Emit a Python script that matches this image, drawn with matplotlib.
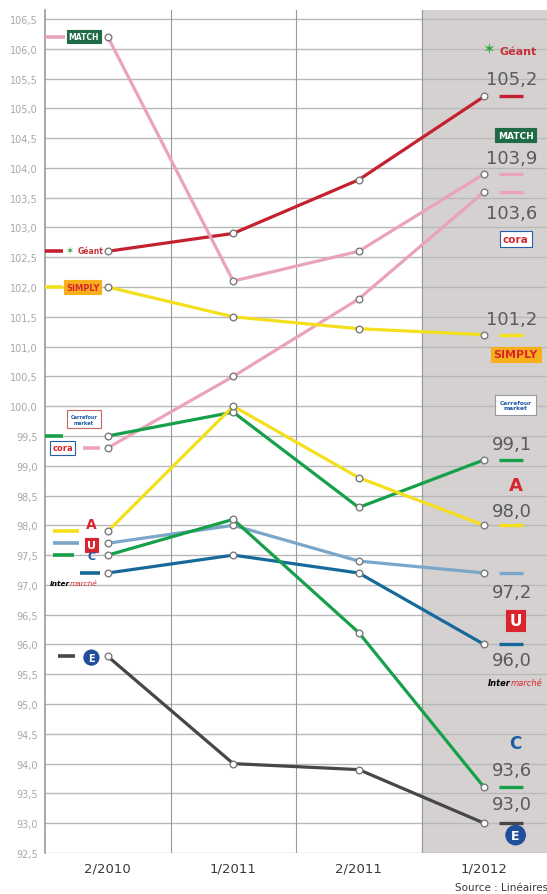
import matplotlib
matplotlib.use("Agg")
import matplotlib.pyplot as plt

periods = ["2/2010", "1/2011", "2/2011", "1/2012"]

geant = [102.6, 102.9, 103.8, 105.2]
match = [106.2, 102.1, 102.6, 103.9]
cora = [99.3, 100.5, 101.8, 103.6]
simply = [102.0, 101.5, 101.3, 101.2]
carrefour_market = [99.5, 99.9, 98.3, 99.1]
auchan = [97.9, 100.0, 98.8, 98.0]
super_u = [97.7, 98.0, 97.4, 97.2]
intermarche = [97.2, 97.5, 97.2, 96.0]
carrefour = [97.5, 98.1, 96.2, 93.6]
leclerc = [95.8, 94.0, 93.9, 93.0]

yticks = [92.5 + 0.5 * i for i in range(29)]

PINK = "#eaa3bd"
RED = "#c4202e"
YELLOW = "#f3df1c"
GREEN = "#17a04a"
LBLUE = "#7aa6c9"
DBLUE = "#17699c"
DGREY = "#474747"

# name, values, colour, left stub x-range, right label dy
series = [
    ("Géant", geant, RED, (-0.54, -0.36), 0.30),
    ("Match", match, PINK, (-0.54, -0.34), 0.26),
    ("Cora", cora, PINK, (-0.20, -0.06), -0.36),
    ("Simply", simply, YELLOW, (-0.54, -0.36), 0.26),
    ("Carrefour Market", carrefour_market, GREEN, (-0.50, -0.36), 0.26),
    ("Auchan", auchan, YELLOW, (-0.44, -0.23), 0.24),
    ("Super U", super_u, LBLUE, (-0.44, -0.23), -0.32),
    ("Intermarché", intermarche, DBLUE, (-0.22, -0.06), -0.26),
    ("Carrefour", carrefour, GREEN, (-0.44, -0.27), 0.30),
    ("Leclerc", leclerc, DGREY, (-0.40, -0.26), 0.32),
]

fig = plt.figure(figsize=(5.47, 8.95), dpi=100)
ax = fig.add_axes([45 / 547, 1 - 854 / 895, 1 - 45 / 547, (854 - 11) / 895])
ax.set_xlim(-0.5, 3.5)
ax.set_ylim(92.5, 106.65)

ax.axvspan(2.5, 3.5, color="#d5d1d1", zorder=0)
for y in yticks:
    ax.axhline(y, color="#b8b8b8", lw=1.0, zorder=1)
for x in [0.5, 1.5, 2.5]:
    ax.axvline(x, color="#9a9a9a", lw=0.8, zorder=1)

xs = range(len(periods))
for name, vals, col, stub, dy in series:
    ax.plot(xs, vals, color=col, lw=2.3, zorder=3, solid_capstyle="round")
    ax.plot(xs, vals, "o", ms=4.8, mfc="white", mec="#7a7a7a", mew=1.0, zorder=4)
    ax.plot(stub, [vals[0]] * 2, color=col, lw=2.6, zorder=3, solid_capstyle="butt")
    ax.plot([3.12, 3.31], [vals[-1]] * 2, color=col, lw=2.4, zorder=3, solid_capstyle="butt")
    txt = f"{vals[-1]:.1f}".replace(".", ",")
    ax.text(3.22, vals[-1] + dy, txt, ha="center", va="center", fontsize=13,
            color="#5a5a5a", family="Liberation Sans Narrow", zorder=5)

# logo stand-ins
def logo(x, y, s, fc, tc, ec=None, fs=5.5, weight="bold", pad=0.25, box=True):
    kw = dict(ha="center", va="center", fontsize=fs, color=tc, weight=weight, zorder=6)
    if box:
        kw["bbox"] = dict(boxstyle=f"square,pad={pad}", fc=fc, ec=ec or fc, lw=0.8)
    ax.text(x, y, s, **kw)

def inter_logo(x, y, fs):
    t = ax.text(x, y, "Inter", fontsize=fs, weight="bold", style="italic", color="black",
                ha="left", va="center", zorder=6)
    ax.annotate("marché", xy=(1, 0.5), xycoords=t, fontsize=fs, style="italic",
                color="#d8262e", ha="left", va="center", zorder=6)

# left side
logo(-0.19, 106.2, "MATCH", "#1e6b45", "white")
logo(-0.14, 102.62, "Géant", "white", "#c8303a", fs=5.5, box=False)
ax.text(-0.31, 102.62, "✶", color="#2da83c", fontsize=7, ha="center", va="center", zorder=6)
logo(-0.2, 102.0, "SIMPLY", "#f7b01c", "#d8262e", fs=6)
logo(-0.19, 99.78, "Carrefour\nmarket", "white", "#1f5aa6", ec="#c76464", fs=3.6, pad=0.7)
logo(-0.36, 99.3, "cora", "white", "#d8262e", ec="#2460a7", fs=6, pad=0.3)
logo(-0.13, 98.03, "A", "white", "#d8262e", fs=10, box=False)
logo(-0.13, 97.67, "U", "#d8262e", "white", fs=8, pad=0.2)
logo(-0.13, 97.48, "C", "white", "#1f5aa6", fs=8, box=False)
inter_logo(-0.46, 97.04, 5.3)
ax.text(-0.13, 95.78, "E", fontsize=7, weight="bold", color="white", ha="center", va="center",
        zorder=6, bbox=dict(boxstyle="circle,pad=0.25", fc="#1f4e9a", ec="#1f4e9a"))

# right side
logo(3.27, 105.96, "Géant", "white", "#c8303a", fs=8, box=False)
ax.text(3.04, 106.0, "✶", color="#2da83c", fontsize=11, ha="center", va="center", zorder=6)
logo(3.25, 104.55, "MATCH", "#1e6b45", "white", fs=6.5)
logo(3.25, 102.8, "cora", "white", "#d8262e", ec="#2460a7", fs=7.5, pad=0.3)
logo(3.25, 100.87, "SIMPLY", "#f7b01c", "#d8262e", fs=8)
logo(3.25, 100.02, "Carrefour\nmarket", "white", "#1f5aa6", ec="#999999", fs=4.2, pad=0.8)
logo(3.25, 98.67, "A", "white", "#d8262e", fs=13, box=False)
logo(3.25, 96.4, "U", "#d8262e", "white", fs=11, pad=0.2)
inter_logo(3.03, 95.36, 6.0)
logo(3.25, 94.35, "C", "#d5d1d1", "#1f5aa6", fs=12, box=False)
ax.text(3.25, 92.8, "E", fontsize=9, weight="bold", color="white", ha="center", va="center",
        zorder=6, bbox=dict(boxstyle="circle,pad=0.25", fc="#1f4e9a", ec="#1f4e9a"))

ax.set_yticks(yticks)
ax.set_yticklabels([f"{v:.1f}".replace(".", ",") for v in yticks],
                   fontsize=7, color="#a8a8a8", family="Liberation Sans Narrow")
ax.set_xticks(list(xs))
ax.set_xticklabels(periods, fontsize=9.5, color="#3a3a3a", family="Liberation Sans Narrow")
ax.tick_params(length=0, pad=5)
ax.tick_params(axis="x", pad=6)
for s in ["top", "right", "bottom"]:
    ax.spines[s].set_visible(False)
ax.spines["left"].set_color("#9a9a9a")
ax.spines["left"].set_linewidth(1.2)

fig.text(455 / 547, 1 - 888 / 895, "Source : Linéaires", fontsize=7.5, color="#3a3a3a",
         ha="left", va="center", family="Liberation Sans Narrow")

fig.savefig("out.png", dpi=100)
